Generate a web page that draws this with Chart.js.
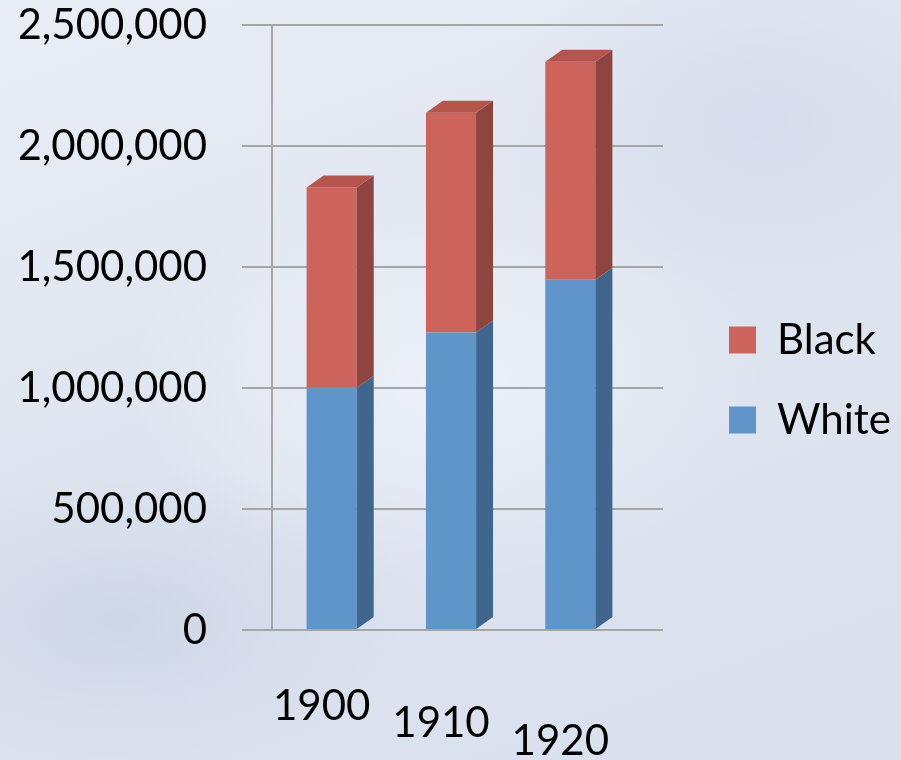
<!DOCTYPE html>
<html>
<head>
<meta charset="utf-8">
<script src="https://cdn.jsdelivr.net/npm/chart.js@4"></script>
<style>
  html, body { margin: 0; padding: 0; }
  body {
    width: 901px; height: 760px; overflow: hidden;
    background:
      radial-gradient(ellipse 300px 160px at 120px 620px, rgba(200,210,228,0.7), rgba(200,210,228,0)),
      radial-gradient(ellipse 260px 180px at 760px 120px, rgba(205,214,232,0.6), rgba(205,214,232,0)),
      radial-gradient(ellipse 320px 200px at 450px 380px, rgba(240,243,249,0.8), rgba(240,243,249,0)),
      linear-gradient(160deg, #e9edf5 0%, #dfe5f0 45%, #d9e0ee 100%);
  }
  #wrap { width: 901px; height: 760px; }
</style>
</head>
<body>
<div id="wrap"><canvas id="myChart"></canvas></div>
<script>
let years = ['1900', '1910', '1920'];
let white = [1001152, 1228832, 1447032];
let black = [827307, 908282, 900652];
let yTicks = [0, 500000, 1000000, 1500000, 2000000, 2500000];

let faceColors = { White: '#5f95c9', Black: '#cd645b' };
let sideColors = { White: '#40668d', Black: '#8e4540' };
let gridColor = '#a6a6a6';

// fake depth: side and top faces drawn from the bar elements
let depth3d = {
  id: 'depth3d',
  beforeDatasetsDraw(chart) {
    // gridlines run a little past the plot, as in the 3d back wall
    let ctx = chart.ctx, area = chart.chartArea, y = chart.scales.y;
    ctx.save();
    ctx.strokeStyle = gridColor;
    ctx.lineWidth = 2;
    y.ticks.forEach(t => {
      let py = y.getPixelForValue(t.value);
      ctx.beginPath();
      ctx.moveTo(area.right, py);
      ctx.lineTo(area.right + 33, py);
      ctx.stroke();
    });
    ctx.restore();
  },
  afterDatasetsDraw(chart) {
    let ctx = chart.ctx;
    let dx = 17, dy = 12;
    let n = chart.data.datasets.length;
    chart.data.datasets.forEach((ds, i) => {
      let meta = chart.getDatasetMeta(i);
      meta.data.forEach(bar => {
        let half = bar.width / 2;
        let top = Math.min(bar.y, bar.base), bot = Math.max(bar.y, bar.base);
        ctx.save();
        ctx.fillStyle = sideColors[ds.label];
        ctx.beginPath();
        ctx.moveTo(bar.x + half, bot);
        ctx.lineTo(bar.x + half + dx, bot - dy);
        ctx.lineTo(bar.x + half + dx, top - dy);
        ctx.lineTo(bar.x + half, top);
        ctx.closePath();
        ctx.fill();
        if (i === n - 1) {
          ctx.fillStyle = '#b5554d';
          ctx.beginPath();
          ctx.moveTo(bar.x - half, top);
          ctx.lineTo(bar.x - half + dx, top - dy);
          ctx.lineTo(bar.x + half + dx, top - dy);
          ctx.lineTo(bar.x + half, top);
          ctx.closePath();
          ctx.fill();
        }
        ctx.restore();
      });
    });
  }
};

// the legend gets squeezed once a third side box exists, so give it its width back
let legendWidth = {
  id: 'legendWidth',
  beforeLayout(chart) {
    let lg = chart.legend;
    if (lg && !lg._patched) {
      let fit = lg.fit;
      lg.fit = function () { fit.call(this); this.width = 210; };
      lg._patched = true;
    }
  }
};

let font = "Lato, 'Open Sans', sans-serif";

new Chart(document.getElementById('myChart').getContext('2d'), {
  type: 'bar',
  data: {
    labels: years,
    datasets: [
      { label: 'White', data: white, backgroundColor: faceColors.White },
      { label: 'Black', data: black, backgroundColor: faceColors.Black }
    ]
  },
  options: {
    responsive: true,
    maintainAspectRatio: false,
    animation: false,
    layout: { padding: { left: 20, right: 0, top: 0, bottom: 0 } },
    datasets: { bar: { barPercentage: 0.42, categoryPercentage: 1 } },
    scales: {
      x: {
        stacked: true,
        grid: { display: false },
        border: { color: gridColor, width: 2 },
        afterFit: s => { s.height = 130; },
        ticks: {
          color: '#000',
          padding: 43,
          labelOffset: -10,
          // stagger the year labels downwards like the tilted original
          font: c => ({ family: font, size: 42, lineHeight: (50 + 35 * c.index) + 'px' })
        }
      },
      y: {
        stacked: true,
        min: 0,
        max: 2500000,
        afterBuildTicks: axis => { axis.ticks = yTicks.map(v => ({ value: v })); },
        afterFit: s => { s.width = 252; s.paddingTop = 25; s.paddingBottom = 25; },
        grid: { color: gridColor, lineWidth: 2, tickLength: 30 },
        border: { color: gridColor, width: 2 },
        ticks: {
          color: '#000',
          font: { family: font, size: 42 },
          padding: 35,
          callback: v => v.toLocaleString('en-US')
        }
      },
      spacer: {
        position: 'right',
        grid: { display: false },
        border: { display: false },
        ticks: { display: false },
        afterFit: s => { s.width = 61; }
      }
    },
    plugins: {
      legend: {
        position: 'right',
        reverse: true,
        labels: {
          color: '#000',
          font: { family: font, size: 42 },
          boxWidth: 27,
          boxHeight: 27,
          padding: 38
        }
      },
      tooltip: { enabled: false }
    }
  },
  plugins: [depth3d, legendWidth]
});
</script>
</body>
</html>
